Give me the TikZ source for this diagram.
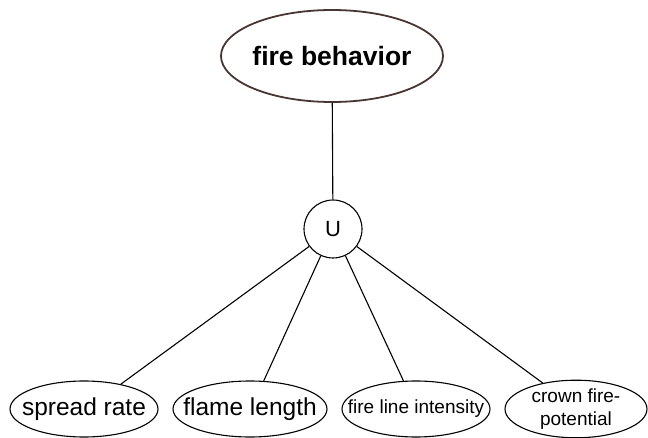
\documentclass[tikz,border=0pt]{standalone}
\usepackage{fontspec}
\setmainfont{Liberation Sans}
\usetikzlibrary{shapes.geometric}
\definecolor{topline}{RGB}{72,54,50}
\begin{document}
\begin{tikzpicture}[x=1pt,y=-1pt,
  topell/.style={ellipse, draw=topline, line width=1.8pt, inner xsep=-40pt, inner ysep=0pt,
    minimum width=222pt, minimum height=92pt, font=\fontsize{26.5}{30}\selectfont\bfseries},
  uc/.style={circle, draw=black, line width=1.1pt, inner sep=0pt, minimum size=58pt,
    font=\fontsize{22}{24}\selectfont},
  leaf/.style={ellipse, draw=black, line width=1.1pt, inner xsep=-40pt, inner ysep=0pt,
    minimum height=56pt, font=\fontsize{24.5}{28}\selectfont},
  leafs/.style={leaf, font=\fontsize{19}{23}\selectfont, align=center},
  conn/.style={draw=black, line width=1.1pt}]
\useasboundingbox (0,0) rectangle (648,438);
\node[topell] (fb) at (332,56) {fire behavior};
\node[uc] (u) at (333,229) {U};
\node[leaf, minimum width=148pt] (sr) at (84,409) {spread rate};
\node[leaf, minimum width=154pt] (fl) at (250,409) {flame length};
\node[leafs, minimum width=148pt] (fi) at (416,409) {fire line intensity};
\node[leafs, minimum width=142pt] (cf) at (576,409) {crown fire-\\potential};
\draw[conn] (fb) -- (u);
\draw[conn] (u) -- (sr.34);
\draw[conn] (u) -- (fl.64);
\draw[conn] (u) -- (fi.114);
\draw[conn] (u) -- (cf.142);
\end{tikzpicture}
\end{document}
